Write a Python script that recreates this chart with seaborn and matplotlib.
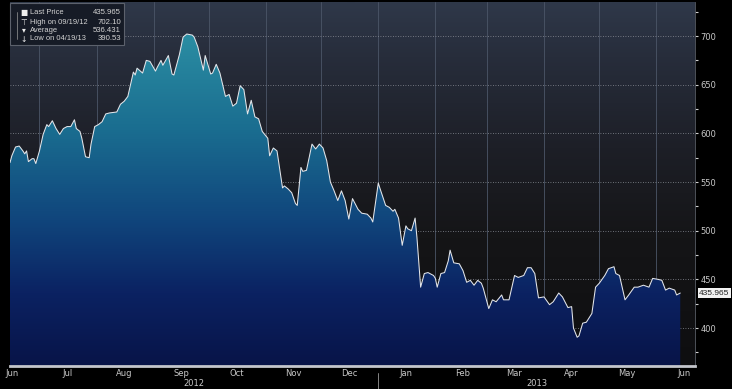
import matplotlib
matplotlib.use("Agg")
import matplotlib.pyplot as plt
import matplotlib.dates as mdates
from matplotlib.colors import LinearSegmentedColormap
from matplotlib.patches import Rectangle
from matplotlib.lines import Line2D
import numpy as np
import pandas as pd
import seaborn as sns

# --- data ---
dates = [
    "2012-06-15", "2012-06-16", "2012-06-18", "2012-06-20", "2012-06-22", "2012-06-23", "2012-06-24",
    "2012-06-25", "2012-06-27", "2012-06-28", "2012-06-29", "2012-07-01",
    "2012-07-03", "2012-07-05", "2012-07-06", "2012-07-08", "2012-07-10", "2012-07-12", "2012-07-14",
    "2012-07-16", "2012-07-18", "2012-07-20", "2012-07-21", "2012-07-23", "2012-07-24", "2012-07-26",
    "2012-07-28", "2012-07-29", "2012-07-31",
    "2012-08-02", "2012-08-04", "2012-08-06", "2012-08-08", "2012-08-12", "2012-08-14", "2012-08-16",
    "2012-08-18", "2012-08-21", "2012-08-22", "2012-08-23", "2012-08-26", "2012-08-28", "2012-08-30",
    "2012-09-02", "2012-09-03", "2012-09-05", "2012-09-06", "2012-09-09", "2012-09-11", "2012-09-12",
    "2012-09-15", "2012-09-17", "2012-09-19", "2012-09-22", "2012-09-23", "2012-09-25", "2012-09-28",
    "2012-09-29",
    "2012-10-02", "2012-10-03", "2012-10-05", "2012-10-07", "2012-10-10", "2012-10-12", "2012-10-14",
    "2012-10-16", "2012-10-18", "2012-10-20", "2012-10-22", "2012-10-24", "2012-10-26", "2012-10-28",
    "2012-10-30",
    "2012-11-02", "2012-11-03", "2012-11-05", "2012-11-07", "2012-11-10", "2012-11-11", "2012-11-13",
    "2012-11-15", "2012-11-17", "2012-11-18", "2012-11-20", "2012-11-21", "2012-11-23", "2012-11-26",
    "2012-11-28", "2012-11-30",
    "2012-12-02", "2012-12-04", "2012-12-06", "2012-12-08", "2012-12-10", "2012-12-12", "2012-12-14",
    "2012-12-16", "2012-12-18", "2012-12-21", "2012-12-23", "2012-12-26", "2012-12-28", "2012-12-29",
    "2013-01-01", "2013-01-02", "2013-01-05", "2013-01-07", "2013-01-09", "2013-01-10", "2013-01-12",
    "2013-01-14", "2013-01-16", "2013-01-17", "2013-01-19", "2013-01-21", "2013-01-22", "2013-01-24",
    "2013-01-26", "2013-01-28", "2013-01-31",
    "2013-02-01", "2013-02-02", "2013-02-04", "2013-02-06", "2013-02-08", "2013-02-09", "2013-02-11",
    "2013-02-14", "2013-02-16", "2013-02-18", "2013-02-20", "2013-02-22", "2013-02-24", "2013-02-26",
    "2013-02-27",
    "2013-03-02", "2013-03-04", "2013-03-06", "2013-03-09", "2013-03-10", "2013-03-13", "2013-03-16",
    "2013-03-18", "2013-03-21", "2013-03-23", "2013-03-25", "2013-03-27", "2013-03-29",
    "2013-04-01", "2013-04-04", "2013-04-06", "2013-04-09", "2013-04-11", "2013-04-14", "2013-04-16",
    "2013-04-17", "2013-04-19", "2013-04-20", "2013-04-22", "2013-04-24", "2013-04-27", "2013-04-29",
    "2013-05-01", "2013-05-04", "2013-05-06", "2013-05-09", "2013-05-10", "2013-05-12", "2013-05-15",
    "2013-05-17", "2013-05-20", "2013-05-22", "2013-05-25", "2013-05-28", "2013-05-30",
    "2013-06-02", "2013-06-04", "2013-06-06", "2013-06-08", "2013-06-11", "2013-06-12", "2013-06-14",
]
prices = [
    570, 577, 586, 587, 582, 579, 582, 571, 574, 574, 569, 582,
    599, 609, 607, 613, 605, 599, 605, 607, 607, 614, 605, 602, 595, 576, 575, 589, 607,
    609, 612, 620, 621, 622, 630, 633, 638, 663, 660, 667, 662, 675, 674,
    664, 668, 675, 670, 680, 661, 660, 681, 699, 702.10, 701, 699, 689, 665, 680,
    661, 662, 671, 662, 638, 640, 628, 631, 649, 645, 620, 634, 617, 615, 602,
    595, 577, 585, 582, 544, 546, 543, 539, 528, 526, 565, 561, 562, 589, 584, 589,
    585, 572, 550, 541, 531, 541, 531, 512, 533, 522, 518, 517, 513, 509,
    549, 543, 526, 524, 520, 522, 513, 485, 505, 502, 500, 513, 493, 442, 456, 457, 454,
    451, 442, 456, 457, 469, 480, 467, 466, 459, 447, 449, 444, 449, 446, 441,
    420, 429, 427, 434, 429, 429, 454, 452, 454, 462, 462, 456, 431,
    432, 424, 427, 436, 432, 421, 422, 400, 390.53, 392, 405, 406, 415, 442,
    446, 454, 461, 463, 456, 454, 429, 434, 442, 442, 444, 442, 451,
    450, 449, 439, 441, 439, 434, 435.965,
]

y_ticks = [400, 450, 500, 550, 600, 650, 700]
y_minor_ticks = [375, 425, 475, 525, 575, 625, 675, 725]
year_labels = ["2012", "2013"]
legend_marks = ["■", "⊤", "▾", "↓"]
legend_labels = ["Last Price", "High on 09/19/12", "Average", "Low on 04/19/13"]
legend_values = ["435.965", "702.10", "536.431", "390.53"]
last_price = 435.965

df = pd.DataFrame({"date": pd.to_datetime(dates), "price": prices})

sns.set_style("dark")
plt.rcParams["font.family"] = ["DejaVu Sans"]
narrow = ["Liberation Sans", "DejaVu Sans"]

W, H = 732, 389
fig = plt.figure(figsize=(W / 100, H / 100), dpi=100, facecolor="black")
ax = fig.add_axes([10 / W, 23 / H, 685 / W, 364 / H])
ax.set_facecolor("black")

y_lo, y_hi = 361, 735
x_lo = mdates.date2num(df["date"].min())
x_hi = mdates.date2num(pd.Timestamp("2013-06-22"))
x_end = mdates.date2num(df["date"].max())

# background gradient of the plot area
bg_cmap = LinearSegmentedColormap.from_list(
    "bg", [(0.0, "#0e0e10"), (0.35, "#151517"), (0.6, "#1d1f27"), (0.85, "#272d3b"), (1.0, "#2f3849")])
ax.imshow(np.linspace(0, 1, 256).reshape(-1, 1), cmap=bg_cmap, origin="lower", aspect="auto",
          extent=[x_lo, x_hi, y_lo, y_hi], zorder=0)

# gradient fill under the price line
fill_cmap = LinearSegmentedColormap.from_list(
    "fill", [(0.0, "#081448"), (0.2, "#0b2262"), (0.4, "#10457c"), (0.65, "#1a6d90"), (0.9, "#2a8ca2"),
             (1.0, "#3298ac")])
poly = ax.fill_between(df["date"], df["price"], y_lo, color="none", lw=0)
img = ax.imshow(np.linspace(0, 1, 256).reshape(-1, 1), cmap=fill_cmap, origin="lower", aspect="auto",
                extent=[x_lo, x_end, y_lo, y_hi], zorder=1)
img.set_clip_path(poly.get_paths()[0], ax.transData)

sns.lineplot(data=df, x="date", y="price", color="#e4e6ea", lw=0.75, ax=ax, zorder=3)

ax.set_xlim(x_lo, x_hi)
ax.set_ylim(y_lo, y_hi)
ax.set_xlabel("")
ax.set_ylabel("")

# x axis: month boundaries as ticks/grid, month names centred
ax.xaxis.set_major_locator(mdates.MonthLocator())
ax.xaxis.set_major_formatter(plt.NullFormatter())
ax.xaxis.set_minor_locator(mdates.MonthLocator(bymonthday=16))
ax.xaxis.set_minor_formatter(mdates.DateFormatter("%b"))
ax.tick_params(axis="x", which="major", length=2, color="#9a9a9a", width=0.6)
ax.tick_params(axis="x", which="minor", length=0, pad=2, labelsize=6, labelcolor="#c8c8c8")
ax.grid(axis="x", which="major", color="#4c5668", lw=0.6, ls="-")

# y axis on the right
ax.yaxis.tick_right()
ax.set_yticks(y_ticks)
ax.set_yticks(y_minor_ticks, minor=True)
ax.tick_params(axis="y", which="both", length=2, color="#d0d0d0", width=0.8, pad=2,
               labelsize=6, labelcolor="#c8c8c8")
ax.grid(axis="y", which="major", color="#8a8e96", lw=0.6, ls=(0, (1, 2)))

for side in ["left", "top"]:
    ax.spines[side].set_visible(False)
ax.spines["right"].set_color("#5a5f68")
ax.spines["right"].set_linewidth(0.6)
ax.spines["bottom"].set_color("#c4c6cc")
ax.spines["bottom"].set_linewidth(2)

# year labels centred under the visible part of each year
jan1 = mdates.date2num(pd.Timestamp("2013-01-01"))
xt = ax.get_xaxis_transform()
for yr, xc in zip(year_labels, [(x_lo + jan1) / 2, (jan1 + x_hi) / 2]):
    ax.text(xc, -0.048, yr, transform=xt, ha="center", va="center", fontsize=6, color="#c8c8c8")
ax.add_line(Line2D([jan1, jan1], [-0.02, -0.062], transform=xt, clip_on=False, color="#9a9a9a", lw=0.6))

# last price tag
ax.annotate(f"{last_price:.3f}", xy=(1.0, last_price), xycoords=ax.get_yaxis_transform(),
            xytext=(3, 0), textcoords="offset points", ha="left", va="center", fontsize=6,
            family=narrow, color="#222222",
            bbox=dict(boxstyle="square,pad=0.2", fc="#f2f2f2", ec="none"),
            annotation_clip=False, zorder=6)

# legend box in the top-left corner
fig.add_artist(Rectangle((10 / W, 1 - 45 / H), 114 / W, 42 / H, transform=fig.transFigure,
                         fc="#161b26", ec="#5c616c", lw=0.8, zorder=10))
fig.add_artist(Line2D([17 / W, 17 / W], [1 - 12 / H, 1 - 39 / H], transform=fig.transFigure,
                      color="#9a9a9a", lw=0.5, zorder=11))
rows_y = [13, 22, 30, 39]
for yy, mk, lab, val in zip(rows_y, legend_marks, legend_labels, legend_values):
    fy = 1 - yy / H
    fig.text(24 / W, fy, mk, ha="center", va="center", fontsize=5.5, color="#eeeeee", zorder=12)
    fig.text(30 / W, fy, lab, ha="left", va="center", fontsize=5.4, family=narrow,
             color="#d4d4d4", zorder=12)
    fig.text(121 / W, fy, val, ha="right", va="center", fontsize=5.6, family=narrow,
             color="#d4d4d4", zorder=12)

fig.savefig("out.png", dpi=100, facecolor="black")
